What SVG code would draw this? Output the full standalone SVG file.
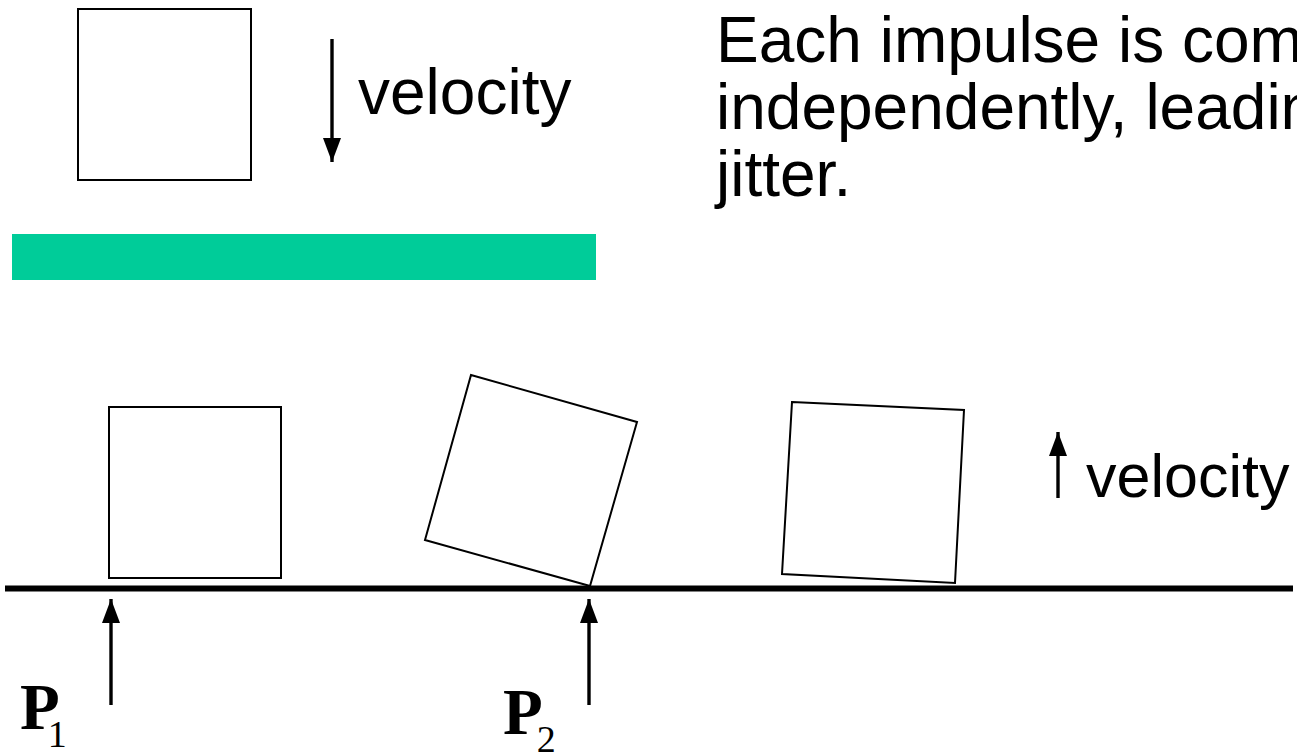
<svg xmlns="http://www.w3.org/2000/svg" width="1297" height="752" viewBox="0 0 1297 752">
  <style>
    .box { fill: #ffffff; stroke: #000000; stroke-width: 2; }
    .arrow { stroke: #000000; stroke-width: 3.4; fill: none; marker-end: url(#head); }
    .sans { font-family: "Liberation Sans", Arial, sans-serif; fill: #000000; }
    .big { font-size: 64px; }
    .mid { font-size: 61px; }
    .serifB { font-family: "Liberation Serif", "Times New Roman", serif; font-weight: bold; font-size: 65px; fill: #000000; }
    .sub { font-family: "Liberation Serif", "Times New Roman", serif; font-size: 38px; fill: #000000; }
  </style>
  <defs>
    <marker id="head" viewBox="0 0 24 18" refX="24" refY="9" markerWidth="24" markerHeight="18" markerUnits="userSpaceOnUse" orient="auto">
      <path d="M0,0 L24,9 L0,18 z" fill="#000000"/>
    </marker>
  </defs>
  <rect width="1297" height="752" fill="#ffffff"/>

  <g id="falling-box">
    <rect class="box" x="78" y="9" width="173" height="171"/>
  </g>

  <g id="green-bar">
    <rect x="12" y="234" width="584" height="46" fill="#00CC99"/>
  </g>

  <g id="ground">
    <line x1="5" y1="588.5" x2="1293" y2="588.5" stroke="#000000" stroke-width="6"/>
  </g>

  <g id="box-resting">
    <rect class="box" x="109" y="407" width="172" height="171"/>
  </g>
  <g id="box-tilted">
    <polygon class="box" points="471,375 637,422 590,586 425,540"/>
  </g>
  <g id="box-slight">
    <polygon class="box" points="792,402 964,410 955,583 782,574"/>
  </g>

  <g id="connectors">
    <line class="arrow" x1="332" y1="39" x2="332" y2="162"/>
    <line class="arrow" x1="111" y1="705" x2="111" y2="599"/>
    <line class="arrow" x1="589" y1="705" x2="589" y2="599"/>
    <line class="arrow" x1="1058" y1="498" x2="1058" y2="432"/>
  </g>

  <g id="labels">
    <text class="sans big" x="358" y="114">velocity</text>
    <text class="sans mid" x="1086" y="497">velocity</text>
    <text class="sans big" x="716" y="62">Each impulse is computed</text>
    <text class="sans big" x="716" y="129">independently, leading to</text>
    <text class="sans big" x="716" y="196">jitter.</text>
    <text x="20" y="729"><tspan class="serifB">P</tspan><tspan class="sub" dx="-12" dy="18">1</tspan></text>
    <text x="503" y="734"><tspan class="serifB">P</tspan><tspan class="sub" dx="-6" dy="18">2</tspan></text>
  </g>
</svg>
